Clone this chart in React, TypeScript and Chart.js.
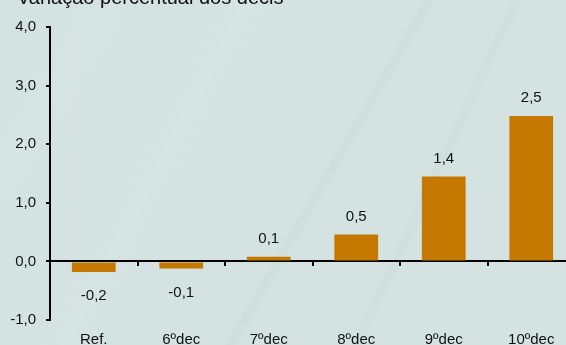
import React, { useEffect, useRef } from "react";
import { Chart, registerables } from "chart.js";

Chart.register(...registerables);

const TITLE = "Variação percentual dos decis";
const CATEGORIES = ["Ref.", "6ºdec", "7ºdec", "8ºdec", "9ºdec", "10ºdec"];
const VALUES = [-0.18, -0.12, 0.08, 0.46, 1.45, 2.48];
const VALUE_LABELS = ["-0,2", "-0,1", "0,1", "0,5", "1,4", "2,5"];
const Y_MIN = -1;
const Y_MAX = 4;
const Y_STEP = 1;

const FONT = "'Liberation Sans', Arial, sans-serif";
const BAR_COLOR = "#c57800";
const TEXT_COLOR = "#111111";

const titlePlugin = {
  id: "cornerTitle",
  afterDraw(chart: any) {
    const ctx = chart.ctx;
    ctx.save();
    ctx.font = `20px ${FONT}`;
    ctx.fillStyle = TEXT_COLOR;
    ctx.textAlign = "left";
    ctx.textBaseline = "alphabetic";
    ctx.fillText(TITLE, 17, 4);
    ctx.restore();
  },
};

const valueLabelPlugin = {
  id: "valueLabels",
  afterDatasetsDraw(chart: any) {
    const ctx = chart.ctx;
    const meta = chart.getDatasetMeta(0);
    ctx.save();
    ctx.font = `15px ${FONT}`;
    ctx.fillStyle = TEXT_COLOR;
    ctx.textAlign = "center";
    ctx.textBaseline = "middle";
    meta.data.forEach((bar: any, i: number) => {
      const v = VALUES[i];
      const y = v >= 0 ? bar.y - 18 : bar.y + 24;
      ctx.fillText(VALUE_LABELS[i], bar.x, y);
    });
    ctx.restore();
  },
};

export default function App() {
  const canvasRef = useRef<HTMLCanvasElement | null>(null);

  useEffect(() => {
    if (!canvasRef.current) return;
    const chart = new Chart(canvasRef.current, {
      type: "bar",
      data: {
        labels: CATEGORIES,
        datasets: [
          {
            data: VALUES,
            backgroundColor: BAR_COLOR,
            borderWidth: 0,
            categoryPercentage: 1,
            barPercentage: 0.5,
            xAxisID: "x",
            yAxisID: "y",
          },
        ],
      },
      plugins: [titlePlugin, valueLabelPlugin],
      options: {
        animation: false,
        responsive: true,
        maintainAspectRatio: false,
        layout: { padding: { top: 27, left: 0, right: 0, bottom: 0 } },
        plugins: {
          legend: { display: false },
          tooltip: { enabled: false },
          title: { display: false },
        },
        scales: {
          x: {
            type: "category",
            position: "bottom",
            offset: true,
            grid: { display: false },
            border: { display: false },
            ticks: {
              color: TEXT_COLOR,
              font: { family: FONT, size: 15 },
              padding: 3,
              maxRotation: 0,
              autoSkip: false,
            },
            afterFit(scale: any) {
              scale.height = 40;
            },
          },
          x2: {
            type: "category",
            labels: CATEGORIES,
            position: { y: 0 },
            offset: true,
            grid: {
              display: true,
              offset: true,
              drawOnChartArea: false,
              drawTicks: true,
              tickLength: 4,
              color: "#000000",
              lineWidth: 2,
            },
            border: { display: true, color: "#000000", width: 2 },
            ticks: { display: false },
          },
          y: {
            type: "linear",
            position: "left",
            min: Y_MIN,
            max: Y_MAX,
            grid: {
              display: true,
              drawOnChartArea: false,
              drawTicks: true,
              tickLength: 4,
              color: "#000000",
              lineWidth: 2,
            },
            border: { display: true, color: "#000000", width: 2 },
            ticks: {
              stepSize: Y_STEP,
              color: TEXT_COLOR,
              font: { family: FONT, size: 15 },
              padding: 10,
              callback: (v: any) => Number(v).toFixed(1).replace(".", ","),
            },
            afterFit(scale: any) {
              scale.width = 50;
            },
          },
        },
      },
    });
    return () => chart.destroy();
  }, []);

  const bg =
    "linear-gradient(118deg, rgba(255,255,255,0) 30%, rgba(255,255,255,0.08) 33%, rgba(255,255,255,0) 36%)," +
    "linear-gradient(120deg, rgba(0,0,0,0) 55%, rgba(120,150,150,0.06) 56%, rgba(0,0,0,0) 57.5%)," +
    "linear-gradient(115deg, rgba(0,0,0,0) 70%, rgba(120,150,150,0.05) 71%, rgba(0,0,0,0) 72.5%)," +
    "linear-gradient(122deg, rgba(255,255,255,0) 10%, rgba(255,255,255,0.07) 14%, rgba(255,255,255,0) 18%)," +
    "#d4e2e2";

  return (
    <div
      style={{
        position: "fixed",
        left: 0,
        top: 0,
        width: 566,
        height: 345,
        overflow: "hidden",
        background: bg,
      }}
    >
      <div style={{ position: "absolute", left: 0, top: 0, width: 575, height: 360 }}>
        <canvas ref={canvasRef} />
      </div>
    </div>
  );
}
